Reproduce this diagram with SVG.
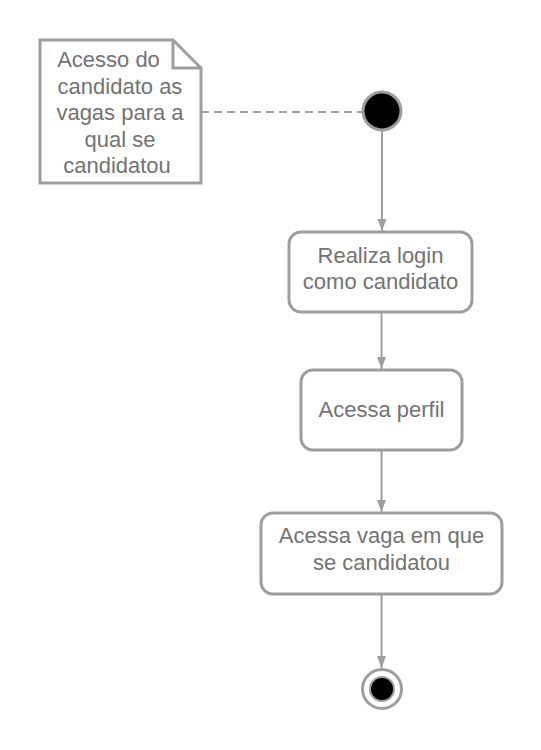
<svg xmlns="http://www.w3.org/2000/svg" width="541" height="750" viewBox="0 0 541 750">
<defs>
<style>
.box{fill:#fff;stroke:#9e9e9e;stroke-width:3}
.ln{fill:none;stroke:#9e9e9e;stroke-width:2}
.t{font-family:"Liberation Sans",Arial,sans-serif;font-size:22px;fill:#737373;text-anchor:middle}
</style>
<marker id="arr" markerWidth="12" markerHeight="16" refX="16" refY="6" viewBox="0 0 16 12" orient="auto" markerUnits="userSpaceOnUse">
<path d="M0,0 L16,6 L0,12 Z" fill="#9e9e9e"/>
</marker>
</defs>
<rect width="541" height="750" fill="#fff"/>
<g id="connectors">
<line class="ln" x1="201" y1="112" x2="362" y2="112" stroke-dasharray="8,5"/>
<line class="ln" x1="382" y1="131" x2="382" y2="231" marker-end="url(#arr)"/>
<line class="ln" x1="381.5" y1="312" x2="381.5" y2="369" marker-end="url(#arr)"/>
<line class="ln" x1="381.5" y1="450" x2="381.5" y2="512" marker-end="url(#arr)"/>
<line class="ln" x1="381.5" y1="594" x2="381.5" y2="668" marker-end="url(#arr)"/>
</g>
<g id="note">
<path class="box" d="M40,40 H173 L201,68 V183 H40 Z"/>
<path d="M173,40 V68 H201" fill="none" stroke="#9e9e9e" stroke-width="3"/>
<line x1="173" y1="40" x2="201" y2="68" stroke="#9e9e9e" stroke-width="1.5"/>
<text class="t" x="108.5" y="67">Acesso do</text>
<text class="t" x="120" y="94">candidato as</text>
<text class="t" x="120" y="120">vagas para a</text>
<text class="t" x="120" y="147">qual se</text>
<text class="t" x="117" y="173">candidatou</text>
</g>
<g id="start">
<circle cx="382" cy="111" r="19" fill="#000" stroke="#9e9e9e" stroke-width="3"/>
</g>
<g id="login">
<rect class="box" x="289" y="232" width="183" height="80" rx="12"/>
<text class="t" x="380.5" y="263">Realiza login</text>
<text class="t" x="380.5" y="289">como candidato</text>
</g>
<g id="perfil">
<rect class="box" x="301" y="370" width="161" height="80" rx="12"/>
<text class="t" x="381.5" y="417">Acessa perfil</text>
</g>
<g id="vaga">
<rect class="box" x="261" y="513" width="241" height="81" rx="12"/>
<text class="t" x="381.5" y="543">Acessa vaga em que</text>
<text class="t" x="381.5" y="570">se candidatou</text>
</g>
<g id="end">
<circle cx="382" cy="689" r="19.5" fill="#fff" stroke="#9e9e9e" stroke-width="3"/>
<circle cx="382" cy="689" r="12" fill="#000" stroke="#9e9e9e" stroke-width="2"/>
</g>
</svg>
